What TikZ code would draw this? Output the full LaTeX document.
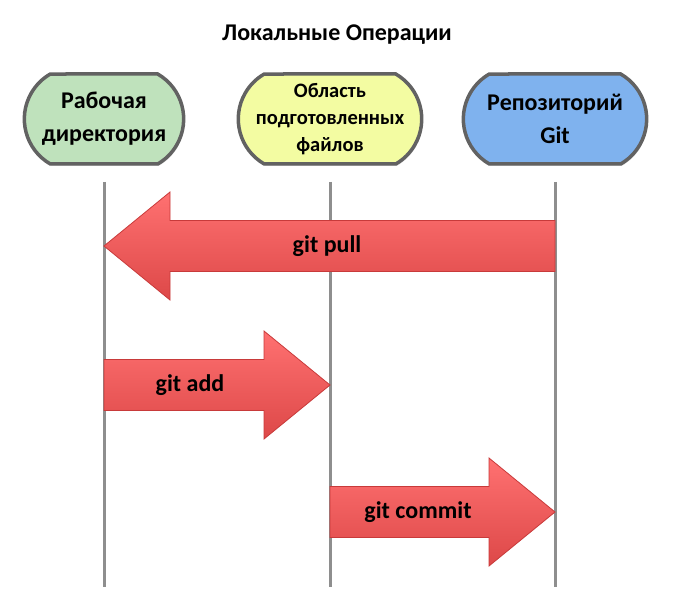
\documentclass[tikz,border=0pt]{standalone}
\usepackage{fontspec}
\setmainfont{Carlito}
\usepackage{tikz}
\usetikzlibrary{shapes.misc,shadows,positioning}
\definecolor{workfill}{HTML}{BFE2BC}
\definecolor{stagefill}{HTML}{F3FCA2}
\definecolor{repofill}{HTML}{7FB2EE}
\definecolor{boxedge}{HTML}{626262}
\definecolor{lifegray}{HTML}{8E8E8E}
\definecolor{arrowtop}{HTML}{FF7171}
\definecolor{arrowbot}{HTML}{DD4848}
\definecolor{arrowedge}{HTML}{C83A3A}

\begin{document}
\begin{tikzpicture}[
  x=1pt, y=-1pt,
  area/.style={draw=boxedge, line width=3.5pt, rounded rectangle, rounded rectangle arc length=120,
    minimum height=90pt, align=center, font=\fontsize{24}{33}\selectfont\bfseries,
    drop shadow={opacity=0.25, shadow xshift=1pt, shadow yshift=-2pt}},
  lifeline/.style={draw=lifegray, line width=3pt},
  blockarrow/.style={draw=arrowedge, line width=0.8pt, top color=arrowtop, bottom color=arrowbot},
  cmd/.style={font=\fontsize{24}{28}\selectfont\bfseries}
]
\useasboundingbox (0,0) rectangle (676,609);

% Title
\node[font=\fontsize{24}{28}\selectfont\bfseries] (title) at (337,35) {Локальные Операции};

% Areas
\node[area, fill=workfill, minimum width=166pt] (work) at (104,119) {Рабочая\\директория};
\node[area, fill=stagefill, minimum width=164pt, font=\fontsize{20.5}{27}\selectfont\bfseries] (stage) at (330,119) {Область\\подготовленных\\файлов};
\node[area, fill=repofill, minimum width=190pt] (repo) at (555,119) {Репозиторий\\Git};

% Lifelines
\coordinate (top) at (0,182);
\coordinate (bottom) at (0,587);
\draw[lifeline] (work |- top) -- (work |- bottom);
\draw[lifeline] (stage |- top) -- (stage |- bottom);
\draw[lifeline] (repo |- top) -- (repo |- bottom);

% Rows
\coordinate (row-pull) at (0,246);
\coordinate (row-add) at (0,385);
\coordinate (row-commit) at (0,512);

% git pull
\coordinate (pull-from) at (repo |- row-pull);
\coordinate (pull-to) at (work |- row-pull);
\path[blockarrow] ([shift={(0,-25.5)}]pull-from) -- ([shift={(66,-25.5)}]pull-to) -- ([shift={(66,-54)}]pull-to)
  -- (pull-to) -- ([shift={(66,54)}]pull-to) -- ([shift={(66,25.5)}]pull-to) -- ([shift={(0,25.5)}]pull-from) -- cycle;
\node[cmd] (pull) at (327,246) {git pull};

% git add
\coordinate (add-from) at (work |- row-add);
\coordinate (add-to) at (stage |- row-add);
\path[blockarrow] ([shift={(0,-25.5)}]add-from) -- ([shift={(-66,-25.5)}]add-to) -- ([shift={(-66,-54)}]add-to)
  -- (add-to) -- ([shift={(-66,54)}]add-to) -- ([shift={(-66,25.5)}]add-to) -- ([shift={(0,25.5)}]add-from) -- cycle;
\node[cmd] (add) at (190,385) {git add};

% git commit
\coordinate (commit-from) at (stage |- row-commit);
\coordinate (commit-to) at (repo |- row-commit);
\path[blockarrow] ([shift={(0,-25.5)}]commit-from) -- ([shift={(-66,-25.5)}]commit-to) -- ([shift={(-66,-54)}]commit-to)
  -- (commit-to) -- ([shift={(-66,54)}]commit-to) -- ([shift={(-66,25.5)}]commit-to) -- ([shift={(0,25.5)}]commit-from) -- cycle;
\node[cmd] (commit) at (418,512) {git commit};

\end{tikzpicture}
\end{document}
